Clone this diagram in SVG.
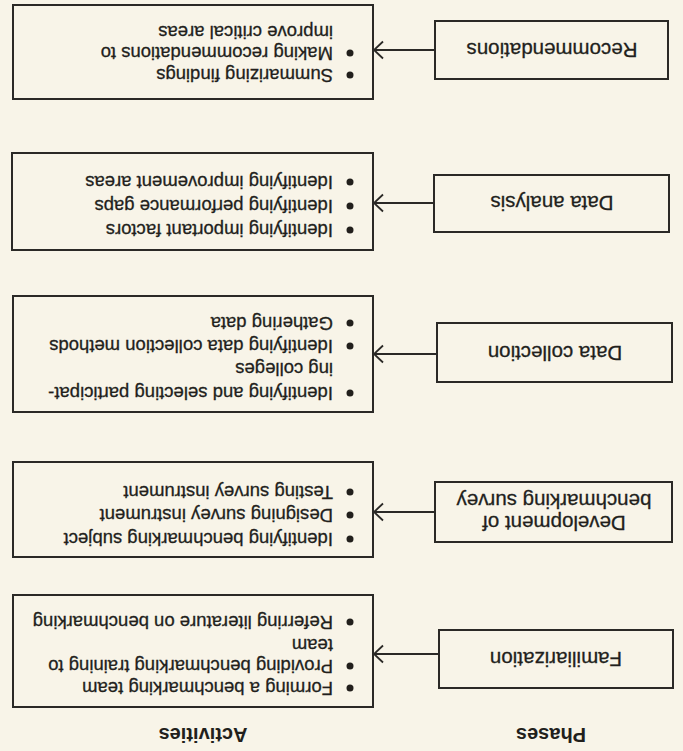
<svg xmlns="http://www.w3.org/2000/svg" width="683" height="751" viewBox="0 0 683 751">
  <style>
    .box { fill: none; stroke: #2b2926; stroke-width: 2; }
    .conn { fill: none; stroke: #2b2926; stroke-width: 1.8; }
    .phase { font-family: "Liberation Sans", Arial, sans-serif; font-size: 20.5px; fill: #221f1c; stroke: #221f1c; stroke-width: 0.3; text-anchor: middle; }
    .act { font-family: "Liberation Sans", Arial, sans-serif; font-size: 18.5px; fill: #221f1c; stroke: #221f1c; stroke-width: 0.3; }
    .head { font-family: "Liberation Sans", Arial, sans-serif; font-size: 20px; font-weight: bold; fill: #221f1c; text-anchor: middle; }
    .dot { fill: #221f1c; }
  </style>
  <defs>
    <marker id="chevron" markerUnits="userSpaceOnUse" viewBox="0 0 11 20" refX="10" refY="10" markerWidth="11" markerHeight="20" orient="auto">
      <path d="M1,1.5 L10,10 L1,18.5" fill="none" stroke="#2b2926" stroke-width="1.8"/>
    </marker>
  </defs>
  <rect width="683" height="751" fill="#f8f4e8"/>

  <!-- whole chart is printed turned upside down -->
  <g transform="rotate(180 341.5 375.5)">
    <text class="head" x="132" y="23">Phases</text>
    <text class="head" x="480" y="23">Activities</text>

    <g id="connectors">
      <line class="conn" x1="245" y1="97" x2="309" y2="97" marker-end="url(#chevron)"/>
      <line class="conn" x1="248" y1="239" x2="309" y2="239" marker-end="url(#chevron)"/>
      <line class="conn" x1="246" y1="397" x2="309" y2="397" marker-end="url(#chevron)"/>
      <line class="conn" x1="249" y1="548" x2="309" y2="548" marker-end="url(#chevron)"/>
      <line class="conn" x1="248" y1="701" x2="309" y2="701" marker-end="url(#chevron)"/>
    </g>

    <g id="phase-familiarization">
      <rect class="box" x="10" y="63" width="234" height="58"/>
      <text class="phase" x="127" y="99">Familiarization</text>
    </g>
    <g id="phase-development">
      <rect class="box" x="11" y="209" width="237" height="60"/>
      <text class="phase" x="129" y="235">Development of</text>
      <text class="phase" x="129" y="257">benchmarking survey</text>
    </g>
    <g id="phase-collection">
      <rect class="box" x="11" y="369" width="235" height="59"/>
      <text class="phase" x="128" y="405">Data collection</text>
    </g>
    <g id="phase-analysis">
      <rect class="box" x="14" y="519" width="235" height="57"/>
      <text class="phase" x="131" y="555">Data analysis</text>
    </g>
    <g id="phase-recommendations">
      <rect class="box" x="15" y="672" width="233" height="58"/>
      <text class="phase" x="131" y="708">Recommendations</text>
    </g>

    <g id="activities-familiarization">
      <rect class="box" x="310" y="44" width="360" height="112"/>
      <circle class="dot" cx="333" cy="63" r="3.5"/>
      <text class="act" x="350" y="69">Forming a benchmarking team</text>
      <circle class="dot" cx="333" cy="85" r="3.5"/>
      <text class="act" x="350" y="91">Providing benchmarking training to</text>
      <text class="act" x="350" y="112">team</text>
      <circle class="dot" cx="333" cy="129" r="3.5"/>
      <text class="act" x="350" y="135">Referring literature on benchmarking</text>
    </g>
    <g id="activities-development">
      <rect class="box" x="310" y="194" width="360" height="95"/>
      <circle class="dot" cx="333" cy="212" r="3.5"/>
      <text class="act" x="350" y="218">Identifying benchmarking subject</text>
      <circle class="dot" cx="333" cy="236" r="3.5"/>
      <text class="act" x="350" y="242">Designing survey instrument</text>
      <circle class="dot" cx="333" cy="259" r="3.5"/>
      <text class="act" x="350" y="265">Testing survey instrument</text>
    </g>
    <g id="activities-collection">
      <rect class="box" x="310" y="339" width="360" height="116"/>
      <circle class="dot" cx="333" cy="358" r="3.5"/>
      <text class="act" x="350" y="364">Identifying and selecting participat-</text>
      <text class="act" x="350" y="388">ing colleges</text>
      <circle class="dot" cx="333" cy="405" r="3.5"/>
      <text class="act" x="350" y="411">Identifying data collection methods</text>
      <circle class="dot" cx="333" cy="428" r="3.5"/>
      <text class="act" x="350" y="434">Gathering data</text>
    </g>
    <g id="activities-analysis">
      <rect class="box" x="310" y="501" width="361" height="97"/>
      <circle class="dot" cx="333" cy="521" r="3.5"/>
      <text class="act" x="350" y="527">Identifying important factors</text>
      <circle class="dot" cx="333" cy="545" r="3.5"/>
      <text class="act" x="350" y="551">Identifying performance gaps</text>
      <circle class="dot" cx="333" cy="569" r="3.5"/>
      <text class="act" x="350" y="575">Identifying improvement areas</text>
    </g>
    <g id="activities-recommendations">
      <rect class="box" x="310" y="652" width="360" height="94"/>
      <circle class="dot" cx="333" cy="676" r="3.5"/>
      <text class="act" x="350" y="682">Summarizing findings</text>
      <circle class="dot" cx="333" cy="698" r="3.5"/>
      <text class="act" x="350" y="704">Making recommendations to</text>
      <text class="act" x="350" y="725">improve critical areas</text>
    </g>
  </g>
</svg>
